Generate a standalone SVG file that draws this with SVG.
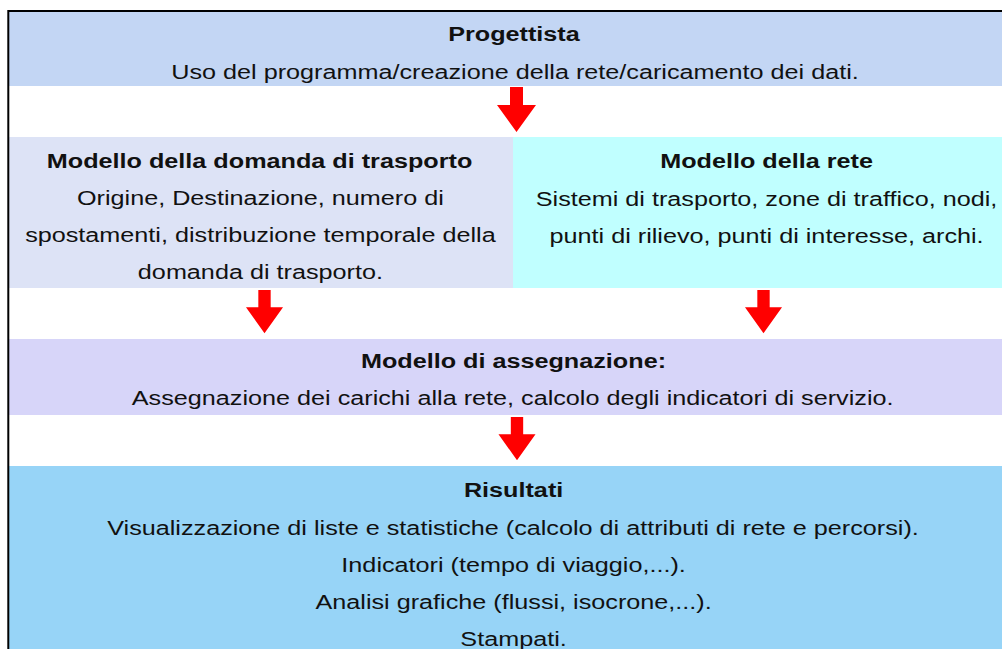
<svg xmlns="http://www.w3.org/2000/svg" width="1002" height="649" viewBox="0 0 1002 649">
<style>
.t{font-family:"Liberation Sans",Arial,sans-serif;font-size:21px;fill:#111;text-anchor:middle}
.b{font-weight:bold}
.arrow{fill:#ff0000}
</style>
<defs>
<path id="arr" d="M-6.5,0 H6.5 V18 H19.5 L0,45 L-19.5,18 H-6.5 Z"/>
</defs>
<rect width="1002" height="649" fill="#ffffff"/>
<g id="progettista">
<rect x="9" y="12" width="993" height="74" fill="#c3d6f4"/>
<g transform="scale(1.2 1)">
<text class="t b" x="428.3" y="41">Progettista</text>
<text class="t" x="429.2" y="79">Uso del programma/creazione della rete/caricamento dei dati.</text>
</g>
</g>
<g id="domanda">
<rect x="9" y="137" width="504" height="151" fill="#dde3f6"/>
<g transform="scale(1.2 1)">
<text class="t b" x="216.3" y="168">Modello della domanda di trasporto</text>
<text class="t" x="217" y="205">Origine, Destinazione, numero di</text>
<text class="t" x="217" y="242">spostamenti, distribuzione temporale della</text>
<text class="t" x="217" y="279">domanda di trasporto.</text>
</g>
</g>
<g id="rete">
<rect x="513" y="137" width="489" height="151" fill="#c0ffff"/>
<g transform="scale(1.2 1)">
<text class="t b" x="638.8" y="168">Modello della rete</text>
<text class="t" x="638.8" y="206">Sistemi di trasporto, zone di traffico, nodi,</text>
<text class="t" x="638.8" y="243">punti di rilievo, punti di interesse, archi.</text>
</g>
</g>
<g id="assegnazione">
<rect x="9" y="339" width="993" height="76" fill="#d7d5f9"/>
<g transform="scale(1.2 1)">
<text class="t b" x="427.9" y="368">Modello di assegnazione:</text>
<text class="t" x="427.2" y="405">Assegnazione dei carichi alla rete, calcolo degli indicatori di servizio.</text>
</g>
</g>
<g id="risultati">
<rect x="9" y="466" width="993" height="183" fill="#97d4f7"/>
<g transform="scale(1.2 1)">
<text class="t b" x="428" y="497">Risultati</text>
<text class="t" x="427.5" y="535">Visualizzazione di liste e statistiche (calcolo di attributi di rete e percorsi).</text>
<text class="t" x="428" y="572">Indicatori (tempo di viaggio,...).</text>
<text class="t" x="428" y="609">Analisi grafiche (flussi, isocrone,...).</text>
<text class="t" x="428" y="646">Stampati.</text>
</g>
</g>
<g id="connectors" class="arrow">
<use href="#arr" transform="translate(516.5 87) scale(1 1.0)"/>
<use href="#arr" transform="translate(264.5 290) scale(0.95 0.96)"/>
<use href="#arr" transform="translate(763.5 290) scale(0.95 0.96)"/>
<use href="#arr" transform="translate(517 417) scale(0.95 0.96)"/>
</g>
<g id="frame" fill="none" stroke="#000" stroke-width="2">
<path d="M8.3,649 V11 H1002"/>
</g>
</svg>
